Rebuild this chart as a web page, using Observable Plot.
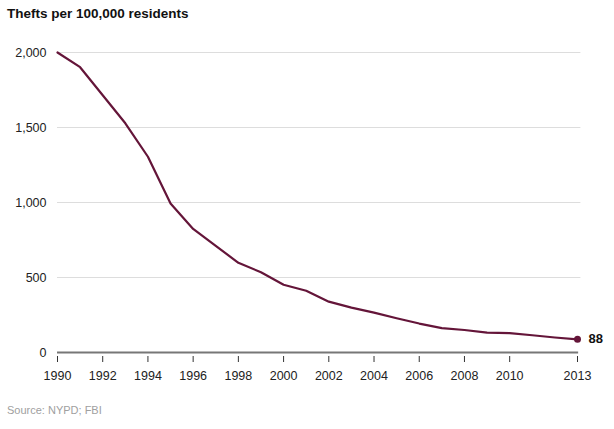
<!DOCTYPE html>
<html><head><meta charset="utf-8">
<script src="https://cdn.jsdelivr.net/npm/d3@7"></script>
<script src="https://cdn.jsdelivr.net/npm/@observablehq/plot@0.6"></script>
<style>
body{margin:0;background:#fff;font-family:"Liberation Sans",Arial,sans-serif;}
#title{position:absolute;left:7px;top:6px;font-weight:bold;font-size:13.5px;color:#111;}
#chart{position:absolute;left:0;top:30px;}
#source{position:absolute;left:7px;top:404px;font-size:11px;color:#a0a0a0;}
</style></head>
<body>
<div id="title">Thefts per 100,000 residents</div>
<div id="chart"></div>
<div id="source">Source: NYPD; FBI</div>
<script>
const years = [1990,1991,1992,1993,1994,1995,1996,1997,1998,1999,2000,2001,2002,2003,2004,2005,2006,2007,2008,2009,2010,2011,2012,2013];
const thefts = [2000,1902,1715,1528,1305,993,824,711,598,535,452,412,339,299,266,228,193,162,150,132,129,115,100,88];
const xTicks = [1990,1992,1994,1996,1998,2000,2002,2004,2006,2008,2010,2013];
const yTicks = [0,500,1000,1500,2000];
const data = years.map((y,i)=>({year:y, value:thefts[i]}));
const last = data[data.length-1];
const color = "#641539";

const plot = Plot.plot({
  width: 614, height: 365,
  marginLeft: 57, marginRight: 37, marginTop: 22, marginBottom: 43,
  style: {fontFamily: '"Liberation Sans", Arial, sans-serif', fontSize: "12.5px", color: "#333", background: "#fff"},
  x: {domain: [1990, 2013], label: null},
  y: {domain: [0, 2000], label: null},
  marks: [
    Plot.gridY(yTicks.filter(d=>d>0), {stroke: "#ddd", strokeOpacity: 1, strokeWidth: 1, x1: 1990, x2: 2013.15}),
    Plot.ruleY([0], {stroke: "#777", strokeWidth: 2.2, x1: 1990, x2: 2013.05}),
    Plot.axisY(yTicks, {tickSize: 0, tickPadding: 11, tickFormat: d3.format(","), fontSize: 12.5, fill: "#222", label: null}),
    Plot.ruleX(xTicks, {x: d => d, y1: 0, y2: 0, insetTop: 4, insetBottom: -10, stroke: "#333", strokeWidth: 1}),
    Plot.axisX(xTicks, {tickSize: 0, tickPadding: 19, tickFormat: d => String(d), fontSize: 12.5, fill: "#222", label: null}),
    Plot.line(data, {x: "year", y: "value", stroke: color, strokeWidth: 2.2}),
    Plot.dot([last], {x: "year", y: "value", r: 3.5, fill: color, stroke: null}),
    Plot.text([last], {x: "year", y: "value", text: d => String(d.value), dx: 11, textAnchor: "start", fontWeight: "bold", fontSize: 13, fill: "#111"})
  ]
});
document.getElementById("chart").appendChild(plot);
</script>
</body></html>
